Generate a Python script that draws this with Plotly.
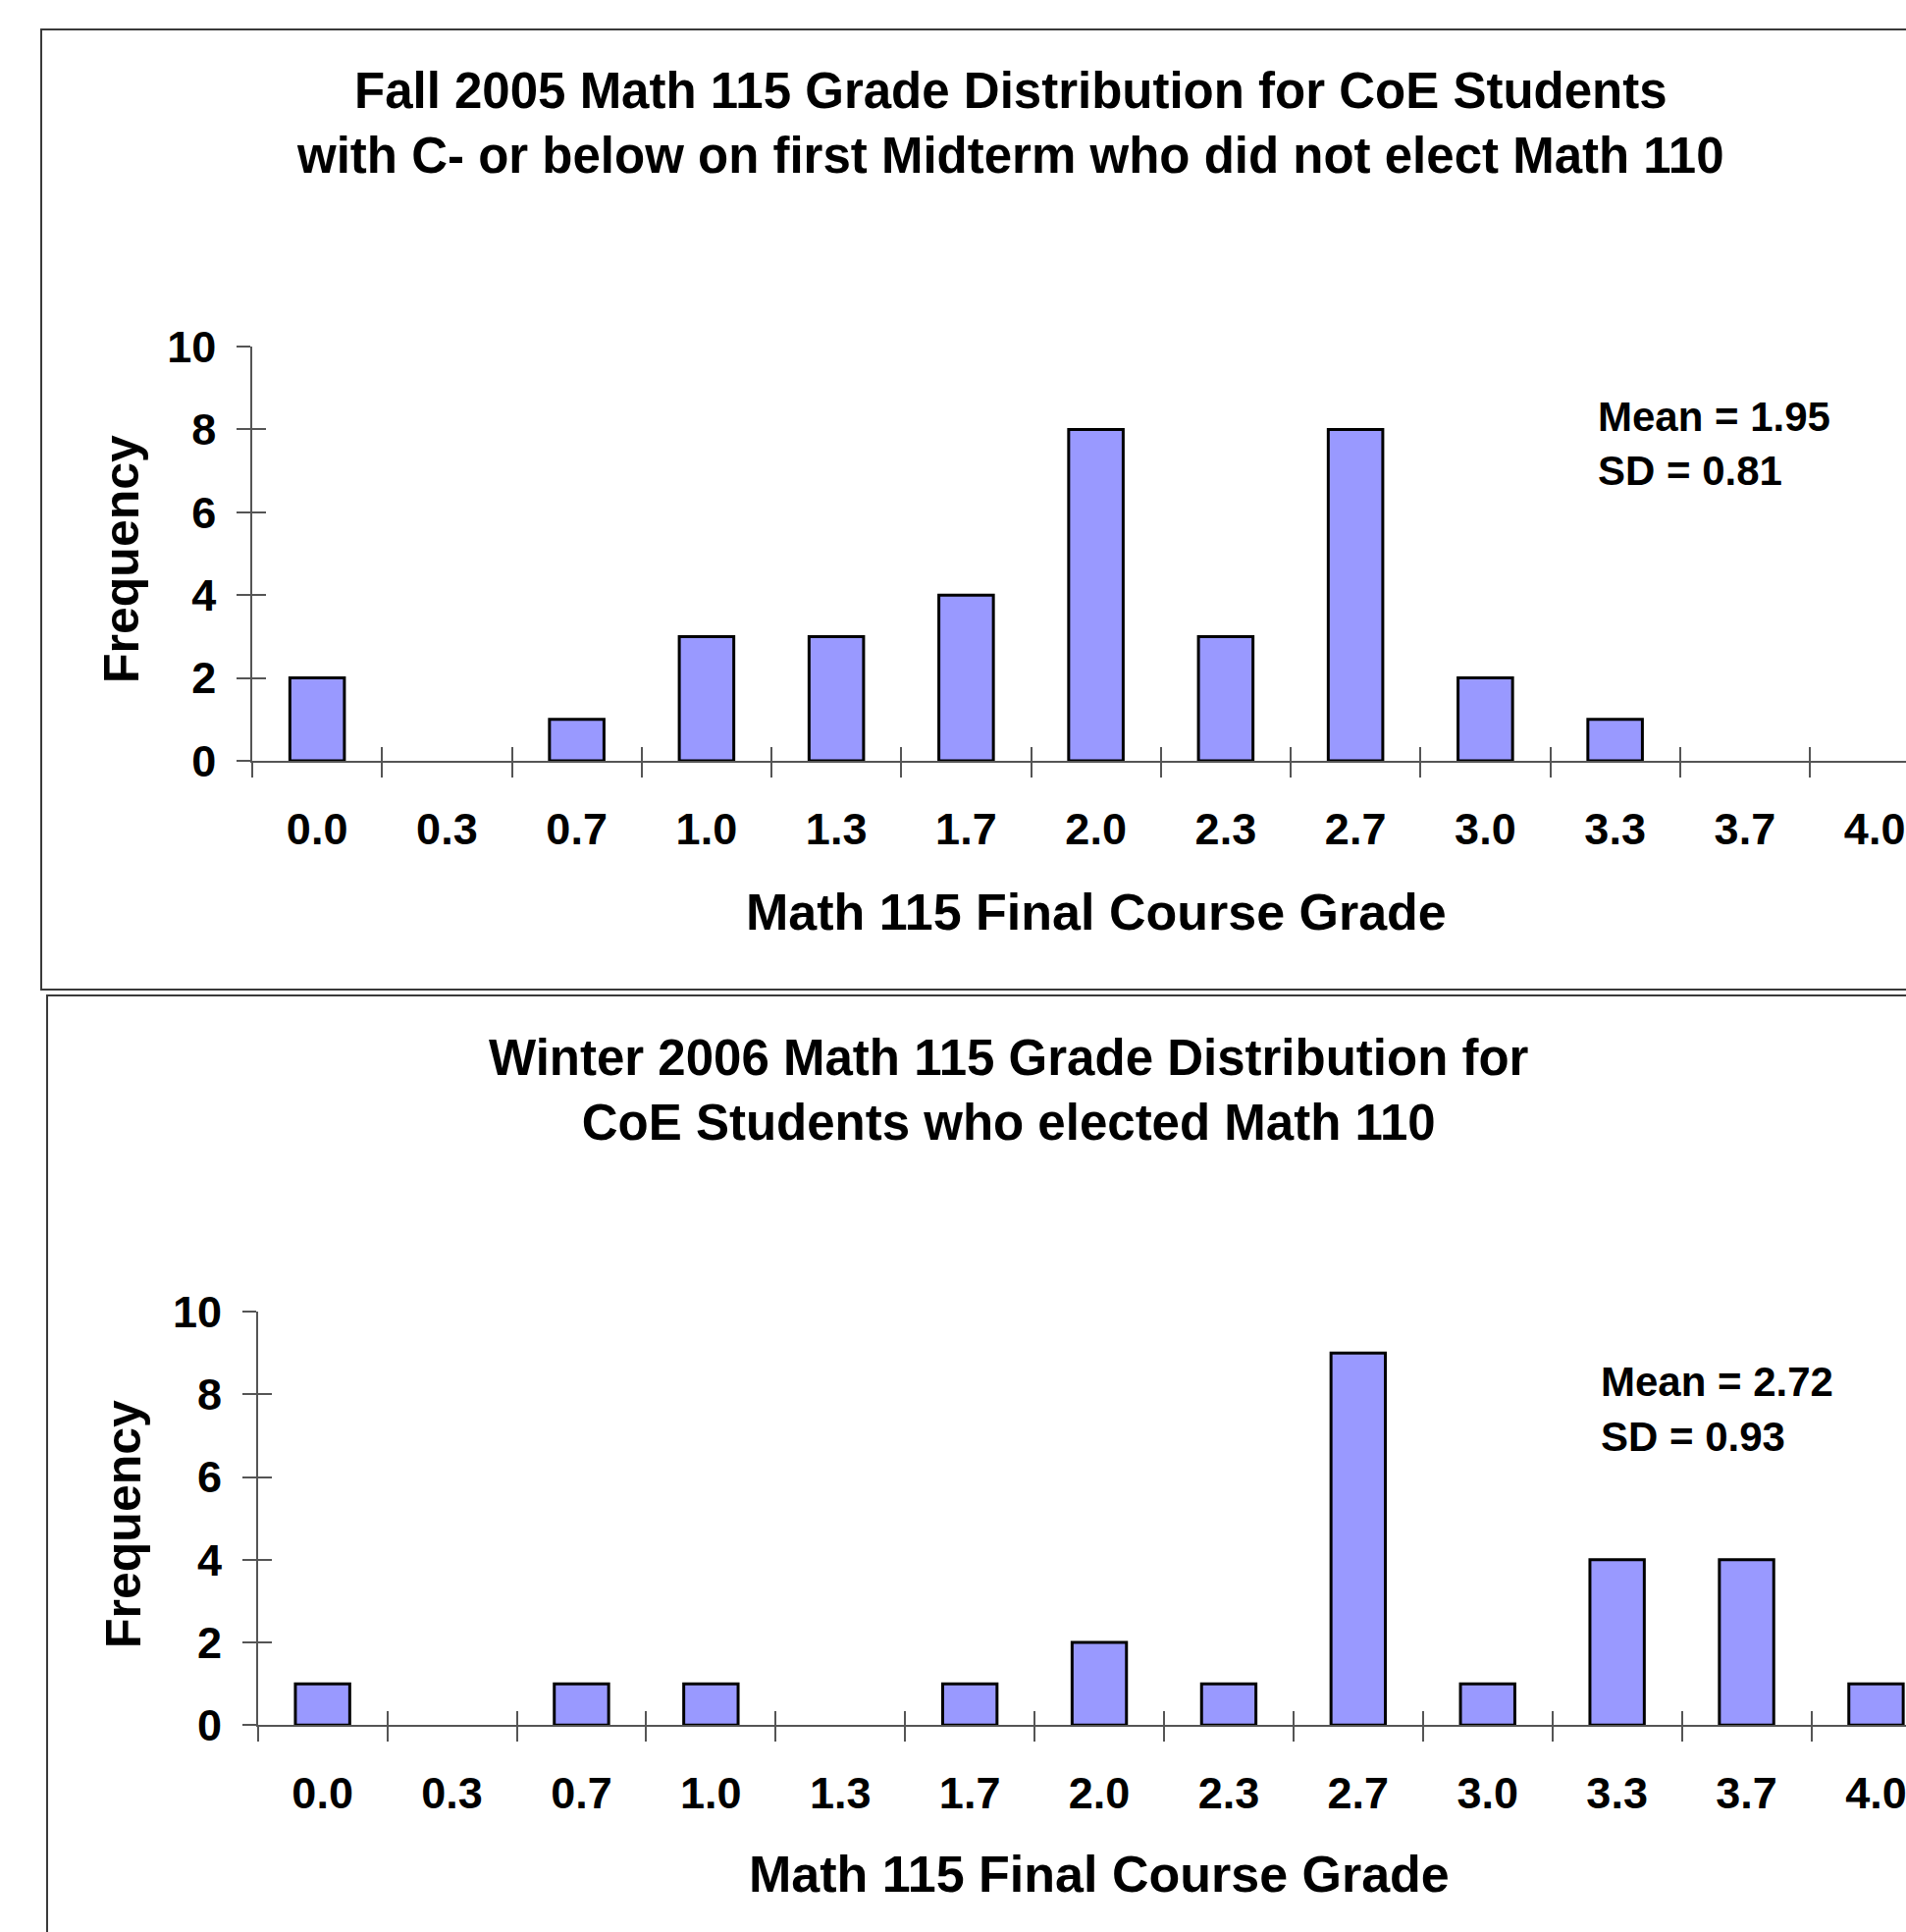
import plotly.graph_objects as go

# Grade categories on the x axis
grades = ["0.0", "0.3", "0.7", "1.0", "1.3", "1.7", "2.0", "2.3", "2.7", "3.0", "3.3", "3.7", "4.0"]

# Frequencies per final grade
fall_2005 = [2, 0, 1, 3, 3, 4, 8, 3, 8, 2, 1, 0, 0]
winter_2006 = [1, 0, 1, 1, 0, 1, 2, 1, 9, 1, 4, 4, 1]

# Summary statistics printed beside each histogram
fall_stats = ["Mean = 1.95", "SD = 0.81"]
winter_stats = ["Mean = 2.72", "SD = 0.93"]

fall_title = "Fall 2005 Math 115 Grade Distribution for CoE Students<br>with C- or below on first Midterm who did not elect Math 110"
winter_title = "Winter 2006 Math 115 Grade Distribution for<br>CoE Students who elected Math 110"
x_title = "Math 115 Final Course Grade"
y_title = "Frequency"
y_ticks = [0, 2, 4, 6, 8, 10]

W, H = 1942, 1968
FONT = "Liberation Sans, Arial, sans-serif"
AXIS_COLOR = "#555555"
BAR_FILL = "#9999FF"


def px_x(v):
    return v / W


def px_y(v):
    return 1 - v / H


def bar_style(values):
    # empty categories get no outline, so nothing is drawn on the baseline
    return dict(marker=dict(color=BAR_FILL,
                            line=dict(color="black", width=[3 if v > 0 else 0 for v in values])),
                showlegend=False, hoverinfo="x+y")


fig = go.Figure()
fig.add_trace(go.Bar(x=grades, y=fall_2005, xaxis="x", yaxis="y", **bar_style(fall_2005)))
fig.add_trace(go.Bar(x=grades, y=winter_2006, xaxis="x2", yaxis="y2", **bar_style(winter_2006)))
# empty traces so the overlay axes (inner half of the crossing ticks) get drawn
fig.add_trace(go.Scatter(x=[], y=[], xaxis="x3", yaxis="y3", showlegend=False))
fig.add_trace(go.Scatter(x=[], y=[], xaxis="x4", yaxis="y4", showlegend=False))

tick_font = dict(family=FONT, size=45, color="black", weight="bold")


def x_axis(left_px, cat_px, anchor, overlay=None):
    d = dict(type="category", categoryorder="array", categoryarray=grades,
             tickson="boundaries", range=[-0.5, -0.5 + (W - left_px) / cat_px],
             showgrid=False, zeroline=False, fixedrange=True,
             tickcolor=AXIS_COLOR, tickwidth=1.5, anchor=anchor)
    if overlay:
        d.update(overlaying=overlay, ticks="inside", ticklen=14,
                 showticklabels=False, showline=False)
    else:
        d.update(domain=[px_x(left_px), 1], ticks="outside", ticklen=15,
                 showline=True, linecolor=AXIS_COLOR, linewidth=1.5,
                 tickfont=tick_font, ticklabelstandoff=29)
    return d


def y_axis(top_px, bottom_px, anchor, overlay=None):
    d = dict(range=[0, 10], tickvals=y_ticks, showgrid=False, zeroline=False,
             fixedrange=True, tickcolor=AXIS_COLOR, tickwidth=1.5, anchor=anchor)
    if overlay:
        d.update(overlaying=overlay, ticks="inside", ticklen=14,
                 showticklabels=False, showline=False, side="left")
    else:
        d.update(domain=[px_y(bottom_px), px_y(top_px)], ticks="outside",
                 ticklen=14, showline=True, linecolor=AXIS_COLOR, linewidth=1.5,
                 tickfont=tick_font, ticklabelstandoff=12)
    return d


fig.update_layout(
    width=W, height=H,
    margin=dict(l=0, r=0, t=0, b=0, autoexpand=False),
    paper_bgcolor="white", plot_bgcolor="white",
    bargap=0.58,
    showlegend=False,
    xaxis=x_axis(257, 132.25, "y"),
    yaxis=y_axis(353, 775, "x"),
    xaxis2=x_axis(262.7, 131.9, "y2"),
    yaxis2=y_axis(1336, 1757.3, "x2"),
    xaxis3=x_axis(257, 132.25, "y", overlay="x"),
    yaxis3=y_axis(353, 775, "x", overlay="y"),
    xaxis4=x_axis(262.7, 131.9, "y2", overlay="x2"),
    yaxis4=y_axis(1336, 1757.3, "x2", overlay="y2"),
)

# Chart frames
frame = dict(type="rect", xref="paper", yref="paper",
             line=dict(color="#3a3a3a", width=2), fillcolor="rgba(0,0,0,0)")
fig.add_shape(x0=px_x(42), x1=1.2, y0=px_y(1008), y1=px_y(30), **frame)
fig.add_shape(x0=px_x(48), x1=1.2, y0=-0.2, y1=px_y(1014), **frame)


def text(x, y, s, size, xanchor="center", angle=0):
    fig.add_annotation(x=px_x(x), y=px_y(y), xref="paper", yref="paper",
                       text=s, showarrow=False, xanchor=xanchor, yanchor="middle",
                       textangle=angle,
                       font=dict(family=FONT, size=size, color="black", weight="bold"))


# Titles
text(1029, 126, fall_title, 51)
text(1028, 1110, winter_title, 51)

# Axis titles
text(1117, 929, x_title, 52)
text(1120, 1909, x_title, 52)
text(124, 570, y_title, 50, angle=-90)
text(126, 1553, y_title, 50, angle=-90)

# Statistics
text(1626, 424, fall_stats[0], 42, xanchor="left")
text(1626, 479, fall_stats[1], 42, xanchor="left")
text(1629, 1407, winter_stats[0], 42, xanchor="left")
text(1629, 1463, winter_stats[1], 42, xanchor="left")

fig.write_html("out.html")
